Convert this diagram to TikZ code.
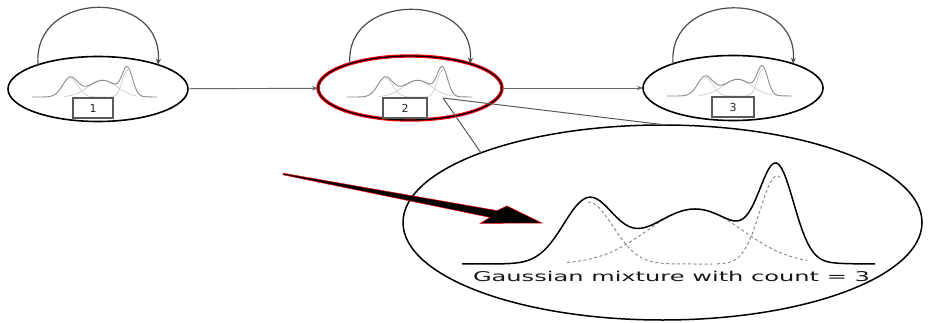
\documentclass[tikz,border=0pt]{standalone}
\usepackage{fontspec}
\usepackage{graphicx}
\usetikzlibrary{shapes.geometric,arrows.meta}
\newfontfamily\labelfont{DejaVu Sans}

% Gaussian bump and the three-component mixture (local units, baseline at 0)
\pgfmathdeclarefunction{gbump}{3}{\pgfmathparse{exp(-0.5*((#1-#2)/#3)*((#1-#2)/#3))}}
\pgfmathdeclarefunction{gmix}{1}{\pgfmathparse{62*gbump(#1,126,25)+55*gbump(#1,233,48)+88*gbump(#1,315,17)}}

% #1 = style of the mixture, #2 = style of the components, #3 = samples
\newcommand\mixturecurves[3]{%
  \draw[#2] plot[domain=126:250,samples=#3] (\x,{-62*gbump(\x,126,25)});
  \draw[#2] plot[domain=105:345,samples=#3] (\x,{-55*gbump(\x,233,48)});
  \draw[#2] plot[domain=255:318,samples=#3] (\x,{-88*gbump(\x,315,17)});
  \draw[#1] plot[domain=0:413,samples=2*#3] (\x,{-gmix(\x)});
}

\tikzset{
  state/.style={ellipse, draw=black, line width=1.6pt, minimum width=180pt,
    minimum height=65pt, inner sep=0pt, outer sep=0pt},
  hotstate/.style={state, draw=red, line width=3.4pt,
    postaction={draw=black, line width=1.3pt}},
  numbox/.style={draw=black!65, line width=1.1pt, fill=white, minimum width=40pt,
    minimum height=20pt, inner sep=0pt, font=\labelfont\fontsize{11}{11}\selectfont,
    text=black!85},
  selfloop/.style={draw=black!70, line width=1.2pt, -{Stealth[length=6pt,width=5pt]}},
  edge/.style={draw=black!60, line width=0.9pt, -{Stealth[length=6pt,width=4.5pt]}},
  zoomline/.style={draw=black!65, line width=1pt},
  bigmix/.style={draw=black, line width=1.5pt},
  bigcomp/.style={draw=black!45, line width=1pt, dash pattern=on 3pt off 2.5pt},
  minimix/.style={draw=black!45, line width=0.9pt},
  minicomp/.style={draw=black!18, line width=0.8pt},
}

\begin{document}
\begin{tikzpicture}[x=1pt,y=-1pt]
\useasboundingbox (0,0) rectangle (933,323);

% zoomed view of the mixture
\node[state, line width=1.5pt, minimum width=519pt, minimum height=195pt] (big) at (662.5,222.5) {};
\begin{scope}[shift={(462,264)}]
  \mixturecurves{bigmix}{bigcomp}{80}
\end{scope}
\node[font=\labelfont\fontsize{13.5}{14}\selectfont, text=black!90, inner sep=0pt] (cap) at (671.5,276)
  {\resizebox{397pt}{\height}{Gaussian mixture with count = 3}};

% the three states
\node[state] (s1) at (98,89) {};
\node[hotstate, minimum width=184pt, minimum height=64pt] (s2) at (410,88) {};
\node[state] (s3) at (733,88) {};

\begin{scope}[shift={(32,97)}, scale=0.303]
  \mixturecurves{minimix}{minicomp}{40}
\end{scope}
\begin{scope}[shift={(347,97)}, scale=0.303]
  \mixturecurves{minimix}{minicomp}{40}
\end{scope}
\begin{scope}[shift={(667,96)}, scale=0.303]
  \mixturecurves{minimix}{minicomp}{40}
\end{scope}

\node[numbox] (b1) at (93,108) {1};
\node[numbox, minimum width=44pt] (b2) at (405,108) {2};
\node[numbox, minimum width=42pt] (b3) at (733,107) {3};

% self loops
\draw[selfloop] (s1.158) .. controls +(-6,-76) and +(6,-76) .. (s1.22);
\draw[selfloop] (s2.158) .. controls +(-6,-72) and +(6,-72) .. (s2.22);
\draw[selfloop] (s3.158) .. controls +(-6,-74) and +(6,-74) .. (s3.22);

% transitions
\draw[edge] (s1) -- (s2);
\draw[edge] (s2) -- (s3);

% lines from the detail point to the zoomed view
\coordinate (zp) at (443,98);
\draw[zoomline] (zp) -- (big.159);
\draw[zoomline] (zp) -- (big.88);

% pointer arrow: tapered black shaft with a thin red rim
\filldraw[fill=black, draw=red, line width=0.5pt, line join=miter]
  (283,173.2) -- (497,210.6) -- (507,206) -- (542,223) -- (480,223.4)
  -- (490,217.4) -- (283,174.8) -- cycle;
\end{tikzpicture}
\end{document}
